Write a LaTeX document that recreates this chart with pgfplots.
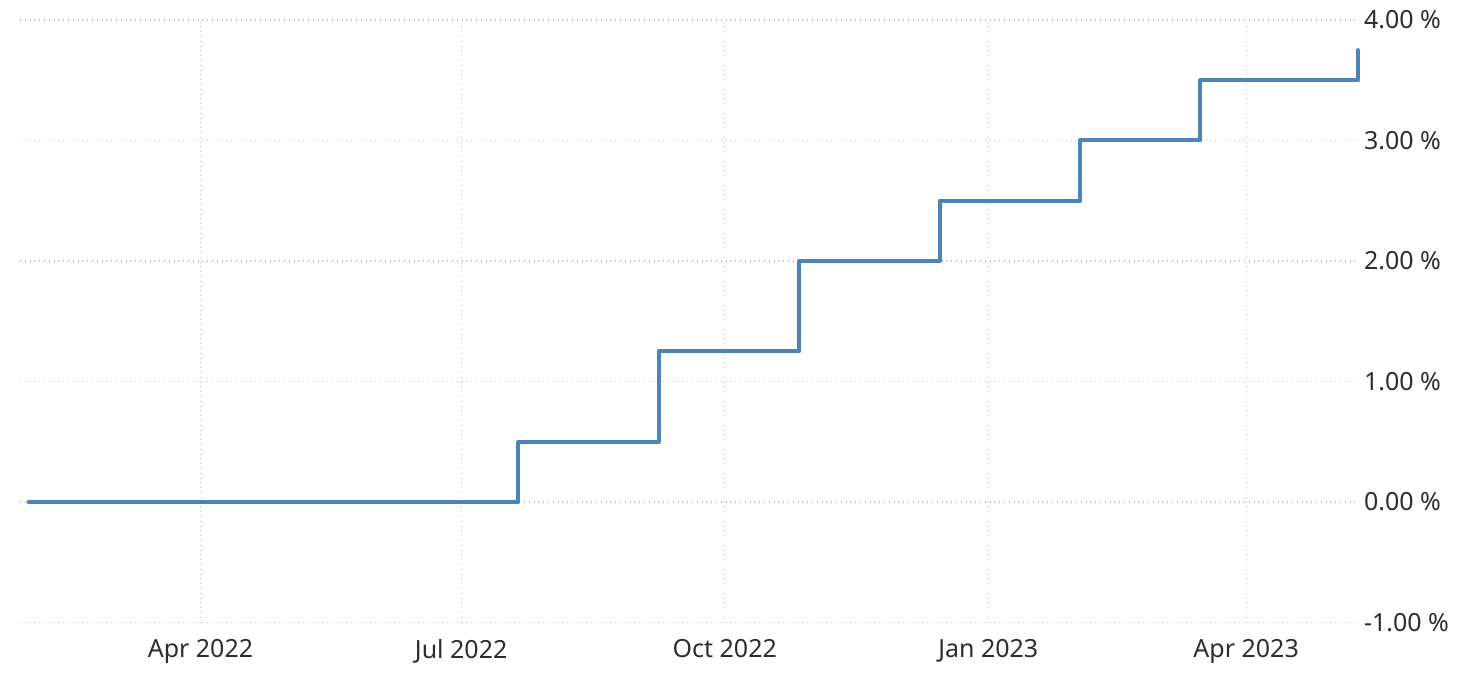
\documentclass[border=0pt]{standalone}
\usepackage{pgfplots}
\pgfplotsset{compat=1.18}
\usepackage{fontspec}
\setmainfont{Noto Sans}
\definecolor{linec}{RGB}{74,132,184}
\definecolor{gridc}{RGB}{190,190,190}
\definecolor{txt}{RGB}{45,45,45}
\begin{document}
\begin{tikzpicture}
\path[use as bounding box] (-10pt,-30.75pt) rectangle (728.5pt,311.25pt);
\begin{axis}[
  at={(0,0)}, anchor=south west,
  scale only axis, width=667.5pt, height=301.25pt,
  xmin=27, xmax=493, ymin=-1, ymax=4,
  axis line style={draw=none},
  xtick={90,181,273,365,455},
  xticklabels={Apr 2022,Jul 2022,Oct 2022,Jan 2023,Apr 2023},
  ytick={-1,0,1,2,3,4},
  yticklabel pos=right,
  yticklabel={\pgfmathprintnumber[fixed,fixed zerofill,precision=2]{\tick}\ \%},
  /pgf/number format/assume math mode=true,
  ticklabel style={font=\fontsize{12.5}{15}\selectfont, text=txt},
  yticklabel style={anchor=west, xshift=1pt},
  xticklabel style={yshift=-5pt},
  major tick length=0pt,
  grid=major,
  major grid style={gridc, dotted, line width=0.6pt},
  clip=false,
]
\addplot[const plot, color=linec, line width=2pt, line join=round, line cap=round] coordinates {
  (30,0) (201,0.5) (250,1.25) (299,2) (348,2.5) (397,3) (439,3.5) (494,3.75)
};
\end{axis}
\end{tikzpicture}
\end{document}
